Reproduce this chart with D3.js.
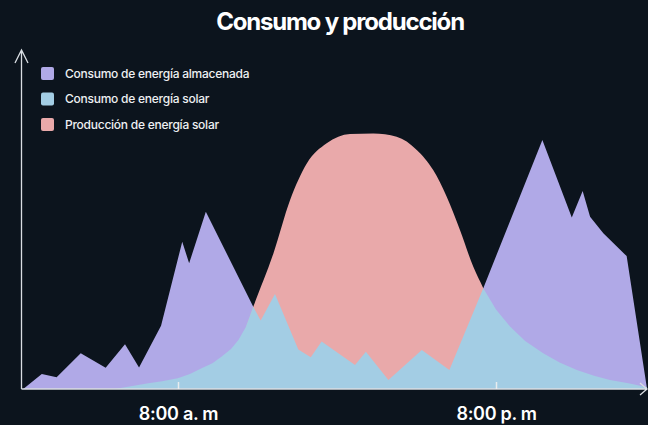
<!DOCTYPE html>
<html>
<head>
<meta charset="utf-8">
<title>Consumo y producción</title>
<style>
  html, body { margin: 0; padding: 0; background: #0c141d; }
  svg { display: block; font-family: Inter, "Noto Sans", sans-serif; }
</style>
</head>
<body>
<svg id="chart" width="648" height="425"></svg>

<script src="https://d3js.org/d3.v7.min.js"></script>
<script type="text/javascript">

// hours of the day (x) and relative energy (y, 0..100)
const storedHours  = [2.16, 2.86, 3.42, 4.33, 5.27, 6.0, 6.53, 7.36, 8.16, 8.42, 9.05, 10.84, 11.17, 12.23, 17.98, 19.52, 21.75, 22.86, 23.27, 23.55, 24.05, 24.93, 25.7];
const storedValues = [0, 5, 3.9, 11.9, 7.1, 14.9, 7.2, 21.1, 49.1, 41.9, 59.1, 27.4, 21.7, 0, 0, 33.6, 83, 57.2, 66, 57.4, 51.9, 44.3, 0];

const solarUseHours  = [5.62, 6.88, 7.4, 7.99, 8.45, 8.89, 9.3, 9.65, 10.0, 10.28, 10.55, 10.84, 11.12, 11.66, 12.54, 13.01, 13.42, 14.68, 15.09, 15.94, 17.2, 18.24, 19.52, 20.0, 20.53, 21.1, 21.78, 22.4, 23.05, 23.7, 24.3, 25.0, 25.7];
const solarUseValues = [0, 1.9, 2.6, 3.6, 5, 6.9, 8.6, 10.8, 13.3, 16.3, 20.5, 27.4, 22.8, 31.7, 13.2, 10.6, 15.8, 8, 12.4, 3, 13, 6.3, 33.6, 26.5, 20.8, 16, 11.9, 8.8, 6.3, 4.4, 3, 1.9, 0.6];

const productionHours  = [9.66, 10.3, 10.84, 11.6, 12.23, 12.86, 13.61, 14.49, 15.37, 16.25, 17.01, 17.63, 18.14, 18.64, 19.14, 19.52, 20.34, 21.28];
const productionValues = [0, 14, 27.4, 45.2, 63, 75.2, 81.9, 85, 85.2, 84.1, 79.7, 73, 64.1, 53, 40.8, 33.6, 18, 0];

const seriesNames = ['Consumo de energía almacenada', 'Consumo de energía solar', 'Producción de energía solar'];
const seriesColors = ['#b0a9e7', '#a3cde4', '#e9a9aa'];
const tickHours = [8, 20];
const tickLabels = ['8:00 a. m', '8:00 p. m'];

const svg = d3.select('#chart');

const x = d3.scaleLinear().domain([2, 26]).range([19, 655]);
const y = d3.scaleLinear().domain([0, 100]).range([389, 89]);

const toPoints = (hs, vs) => hs.map((h, i) => ({h: h, v: vs[i]}));

const linearArea = d3.area()
    .x(d => x(d.h))
    .y0(y(0))
    .y1(d => y(d.v));

const smoothArea = d3.area()
    .x(d => x(d.h))
    .y0(y(0))
    .y1(d => y(d.v))
    .curve(d3.curveMonotoneX);

// title
svg.append('text')
    .attr('x', 340)
    .attr('y', 30)
    .attr('text-anchor', 'middle')
    .attr('fill', '#ffffff')
    .style('font-size', '24px')
    .style('font-weight', 700)
    .style('letter-spacing', '-1.2px')
    .text('Consumo y producción');

// areas: stored, production, solar use (solar use on top)
const areas = svg.append('g').attr('class', 'areas');

areas.append('path')
    .datum(toPoints(storedHours, storedValues))
    .attr('fill', seriesColors[0])
    .attr('d', linearArea);

areas.append('path')
    .datum(toPoints(productionHours, productionValues))
    .attr('fill', seriesColors[2])
    .attr('d', smoothArea);

areas.append('path')
    .datum(toPoints(solarUseHours, solarUseValues))
    .attr('fill', seriesColors[1])
    .attr('d', linearArea);

// axes with arrows
const axes = svg.append('g')
    .attr('class', 'axes')
    .attr('fill', 'none')
    .attr('stroke', '#d9dde2')
    .attr('stroke-width', 1.3);

axes.append('path')
    .attr('d', `M21.5,${y(0)}V50M15,63L21.5,50L28,63`);

axes.append('path')
    .attr('d', `M21.5,${y(0)}H647M640,383L647,${y(0)}L640,395`);

const xAxis = svg.append('g')
    .attr('class', 'x-axis')
    .attr('transform', `translate(0, ${y(0)})`)
    .call(d3.axisBottom(x)
        .tickValues(tickHours)
        .tickSize(-7)
        .tickFormat((d, i) => tickLabels[i]))
    .call(g => g.select('.domain').remove());

xAxis.selectAll('.tick line')
    .attr('stroke', '#e8ecef')
    .attr('stroke-width', 1.5);

xAxis.selectAll('.tick text')
    .attr('y', 31)
    .attr('dy', 0)
    .attr('fill', '#ffffff')
    .style('font-family', 'Inter, sans-serif')
    .style('font-size', '18px')
    .style('font-weight', 600)
    .style('letter-spacing', '-0.3px');

// legend
const legend = svg.append('g')
    .attr('class', 'legend')
    .attr('transform', 'translate(41, 67)');

const rows = legend.selectAll('g')
    .data(seriesNames)
    .join('g')
    .attr('transform', (d, i) => `translate(0, ${i * 25.5})`);

rows.append('rect')
    .attr('width', 13)
    .attr('height', 13)
    .attr('rx', 2)
    .attr('fill', (d, i) => seriesColors[i]);

rows.append('text')
    .attr('x', 24)
    .attr('y', 10.5)
    .attr('fill', '#eef0f2')
    .style('font-size', '12px')
    .style('font-weight', 500)
    .style('letter-spacing', '-0.25px')
    .text(d => d);

</script>
</body>
</html>
